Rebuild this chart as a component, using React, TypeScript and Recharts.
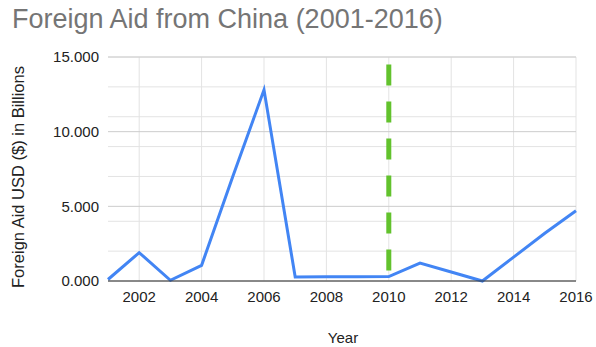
import { LineChart, Line, XAxis, YAxis, CartesianGrid, ReferenceLine } from "recharts";

const years = [2001, 2002, 2003, 2004, 2005, 2006, 2007, 2008, 2009, 2010, 2011, 2012, 2013, 2014, 2015, 2016];
const aid = [0.1, 1.9, 0.05, 1.05, 7.0, 12.8, 0.27, 0.28, 0.29, 0.3, 1.2, 0.6, 0.0, 1.6, 3.2, 4.7];
const xTicks = [2002, 2004, 2006, 2008, 2010, 2012, 2014, 2016];
const yTicks = [0, 5, 10, 15];
const minorY = [0, 1, 2, 3, 4, 6, 7, 8, 9, 11, 12, 13, 14, 15];
const markerYear = 2010;
const markerSpan = [14.5, 0.7];

const data = years.map((y, i) => ({ year: y, aid: aid[i] }));

const FONT = "Arial, 'Liberation Sans', sans-serif";

export default function App() {
  return (
    <div style={{ position: "absolute", left: 0, top: 0, width: 596, height: 347, background: "#fff", fontFamily: FONT }}>
      <div style={{ position: "absolute", left: 12, top: 4, fontSize: 27, color: "#757575", whiteSpace: "nowrap" }}>
        Foreign Aid from China (2001-2016)
      </div>
      <div
        style={{
          position: "absolute",
          left: 18,
          top: 177,
          fontSize: 16.5,
          color: "#222",
          whiteSpace: "nowrap",
          transform: "translate(-50%, -50%) rotate(-90deg)",
        }}
      >
        Foreign Aid USD ($) in Billions
      </div>
      <div style={{ position: "absolute", left: 343, top: 337, fontSize: 15, color: "#222", transform: "translate(-50%, -50%)" }}>
        Year
      </div>
      <LineChart width={596} height={347} data={data} margin={{ top: 57, right: 20, left: 40, bottom: 36 }}>
        <CartesianGrid horizontalValues={minorY} verticalValues={years} stroke="#e3e3e3" strokeWidth={1} />
        <CartesianGrid horizontalValues={yTicks} vertical={false} stroke="#cccccc" strokeWidth={1} />
        <XAxis
          dataKey="year"
          type="number"
          domain={[2001, 2016]}
          ticks={xTicks}
          tickLine={false}
          axisLine={{ stroke: "#333", strokeWidth: 1 }}
          tick={{ fill: "#222", fontSize: 15, fontFamily: FONT }}
          tickMargin={4}
          height={30}
        />
        <YAxis
          domain={[0, 15]}
          ticks={yTicks}
          tickFormatter={(v: number) => v.toFixed(3)}
          tickLine={false}
          axisLine={false}
          tick={{ fill: "#222", fontSize: 15, fontFamily: FONT }}
          tickMargin={3}
          width={68}
        />
        <ReferenceLine
          segment={[
            { x: markerYear, y: markerSpan[0] },
            { x: markerYear, y: markerSpan[1] },
          ]}
          stroke="#62c22d"
          strokeWidth={5}
          strokeDasharray="21 16"
        />
        <Line type="linear" dataKey="aid" stroke="#4285f4" strokeWidth={3} dot={false} isAnimationActive={false} />
      </LineChart>
    </div>
  );
}
